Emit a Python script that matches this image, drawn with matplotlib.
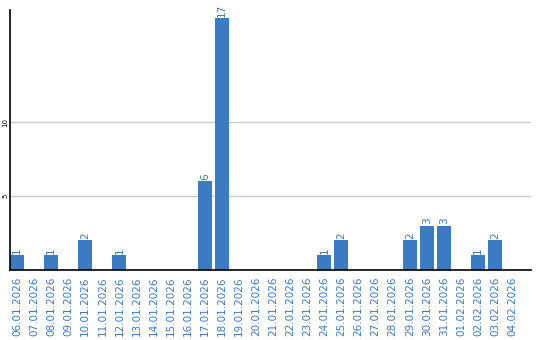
import matplotlib
matplotlib.use("Agg")
import matplotlib.pyplot as plt
import numpy as np

# daily counts
dates = ["06.01.2026", "07.01.2026", "08.01.2026", "09.01.2026", "10.01.2026",
         "11.01.2026", "12.01.2026", "13.01.2026", "14.01.2026", "15.01.2026",
         "16.01.2026", "17.01.2026", "18.01.2026", "19.01.2026", "20.01.2026",
         "21.01.2026", "22.01.2026", "23.01.2026", "24.01.2026", "25.01.2026",
         "26.01.2026", "27.01.2026", "28.01.2026", "29.01.2026", "30.01.2026",
         "31.01.2026", "01.02.2026", "02.02.2026", "03.02.2026", "04.02.2026"]
counts = [1, 0, 1, 0, 2, 0, 1, 0, 0, 0,
          0, 6, 17, 0, 0, 0, 0, 0, 1, 2,
          0, 0, 0, 2, 3, 3, 0, 1, 2, 0]
yticks = [5, 10]

blue = "#3a7bc4"

fig = plt.figure(figsize=(5.4, 3.4), dpi=100)
ax = fig.add_axes([10/540, 1 - 270/340, 521/540, 260/340])

x = np.arange(len(dates))
ax.bar(x, counts, width=0.82, color=blue, zorder=2)

# value labels above non-zero bars
for xi, v in zip(x, counts):
    if v > 0:
        ax.text(xi, v + 0.1, str(v), rotation=90, ha="center", va="bottom",
                color=blue, fontsize=7.5)

ax.set_xlim(-0.41, 30.1)
ax.set_ylim(0, 17.57)
ax.set_xticks(x)
ax.set_xticklabels(dates, rotation=90, color=blue, fontsize=7.5)
ax.set_yticks(yticks)
ax.set_yticklabels([str(t) for t in yticks], rotation=90, fontsize=5, va="center")
ax.tick_params(axis="x", length=0, pad=5)
ax.tick_params(axis="y", length=0, pad=1)
ax.grid(axis="y", color="#cccccc", linewidth=1, zorder=0)

for s in ["top", "right"]:
    ax.spines[s].set_visible(False)
ax.spines["left"].set_linewidth(1.2)
ax.spines["bottom"].set_linewidth(1.2)

plt.savefig("out.png", dpi=100)
